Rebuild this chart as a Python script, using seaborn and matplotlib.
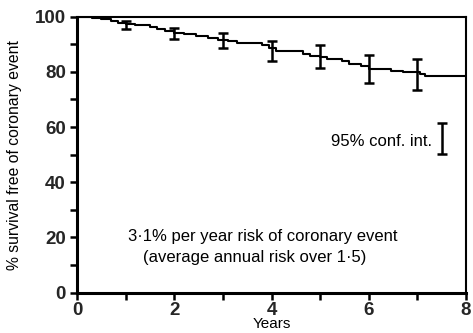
import matplotlib
matplotlib.use("Agg")
import matplotlib.pyplot as plt
import seaborn as sns
import numpy as np
import pandas as pd
from matplotlib.ticker import MultipleLocator

# Kaplan-Meier style step curve
step_years = [0, 0.3, 0.5, 0.7, 0.85, 1.0, 1.2, 1.5, 1.65, 1.8, 2.0, 2.2, 2.45,
              2.7, 2.9, 3.1, 3.3, 3.55, 3.8, 3.95, 4.1, 4.65, 4.8, 5.0, 5.15,
              5.45, 5.6, 5.85, 6.0, 6.45, 6.7, 7.05, 7.15, 8.0]
step_survival = [100, 99.6, 99.2, 98.5, 97.8, 97.2, 97.0, 96.4, 95.4, 94.7, 94.1,
                 93.6, 93.0, 92.4, 91.7, 91.0, 90.6, 90.3, 89.6, 88.6, 87.4, 86.4,
                 85.9, 85.4, 84.7, 83.8, 83.0, 82.1, 80.9, 80.2, 79.9, 79.2, 78.6,
                 78.6]

# 95% confidence intervals at yearly points
ci_years = [1, 2, 3, 4, 5, 6, 7]
ci_center = [97.0, 94.0, 91.6, 88.2, 85.5, 80.9, 79.2]
ci_lower = [95.5, 91.8, 88.5, 84.1, 81.3, 75.9, 73.4]
ci_upper = [98.4, 96.0, 94.2, 91.1, 89.7, 86.1, 84.7]

# legend CI bar
legend_x = 7.5
legend_low, legend_high = 50.1, 61.4

sns.set_theme(style="white")
plt.rcParams['font.family'] = ['Liberation Sans', 'DejaVu Sans']

fig = plt.figure(figsize=(4.73, 3.33), dpi=100)
ax = fig.add_axes([0.163, 0.121, 0.822, 0.829])

df = pd.DataFrame({"Years": step_years, "Survival": step_survival})
sns.lineplot(data=df, x="Years", y="Survival", drawstyle="steps-post",
             color="black", linewidth=1.5, ax=ax, estimator=None)

err = np.array([np.array(ci_center) - np.array(ci_lower),
                np.array(ci_upper) - np.array(ci_center)])
ax.errorbar(ci_years, ci_center, yerr=err, fmt="none", ecolor="black",
            elinewidth=1.8, capsize=3.5, capthick=1.8)

ax.errorbar([legend_x], [(legend_low + legend_high) / 2],
            yerr=[[(legend_high - legend_low) / 2], [(legend_high - legend_low) / 2]],
            fmt="none", ecolor="black", elinewidth=1.8, capsize=3.5, capthick=1.8)
ax.text(7.3, 54.7, "95% conf. int.", ha="right", va="center", fontsize=12,
        color="black")

ax.text(3.83, 20.3, "3·1% per year risk of coronary event", ha="center",
        va="center", fontsize=12, color="black")
ax.text(3.66, 12.8, "(average annual risk over 1·5)", ha="center",
        va="center", fontsize=12, color="black")

ax.set_xlim(0, 8)
ax.set_ylim(0, 100)
ax.set_xticks([0, 2, 4, 6, 8])
ax.set_yticks([0, 20, 40, 60, 80, 100])
ax.xaxis.set_minor_locator(MultipleLocator(1))
ax.yaxis.set_minor_locator(MultipleLocator(10))
ax.tick_params(which="both", direction="out", length=5, width=1.8,
               color="black", bottom=True, left=True, top=False, right=False)
ax.tick_params(which="major", labelsize=13.5, pad=3)
ax.tick_params(axis="x", which="major", pad=1.5)
for lab in ax.get_xticklabels() + ax.get_yticklabels():
    lab.set_fontweight("bold")

ax.set_xlabel("Years", fontsize=11, labelpad=-1, color="black")
ax.set_ylabel("% survival free of coronary event", fontsize=11.3, labelpad=9,
              color="black")

for side in ["left", "bottom"]:
    ax.spines[side].set_linewidth(2.2)
    ax.spines[side].set_color("black")
for side in ["top", "right"]:
    ax.spines[side].set_linewidth(1.5)
    ax.spines[side].set_color("black")
    ax.spines[side].set_visible(True)

fig.savefig("out.png", dpi=100)
